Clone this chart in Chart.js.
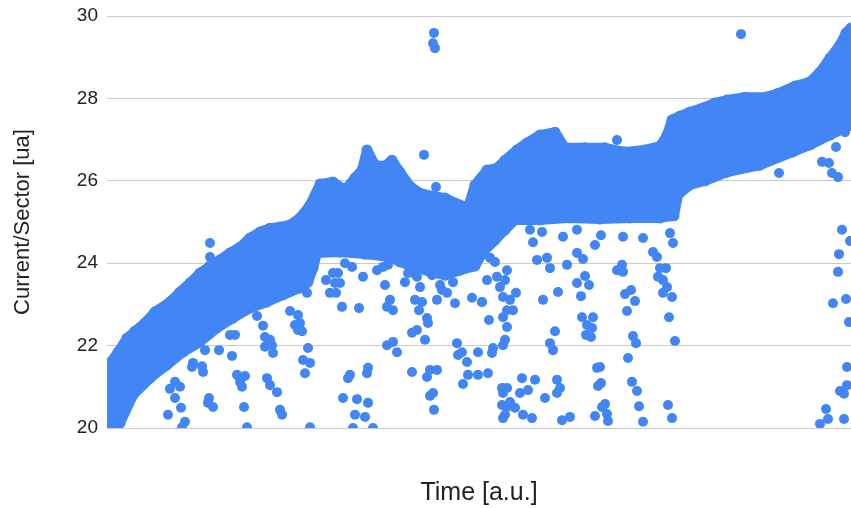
<!DOCTYPE html>
<html>
<head>
<meta charset="utf-8">
<script src="https://cdn.jsdelivr.net/npm/chart.js@4/dist/chart.umd.min.js"></script>
<style>
  html, body { margin: 0; padding: 0; background: #ffffff; }
  #wrap { width: 851px; height: 508px; }
</style>
</head>
<body>
<div id="wrap"><canvas id="current-chart" width="851" height="508"></canvas></div>
<script>
// Current per sector vs time. The dense cloud of samples is drawn as a band
// (upper / lower envelope), the stray samples below it as single points.

const BLUE = '#4285F4';
const FONT = "Arial, 'Liberation Sans', sans-serif";

// upper edge of the dense band
const upperT = [0, 4, 11, 20, 28, 38, 48, 63, 73, 83, 93, 103, 113, 123, 133, 143, 153, 163, 173, 183,
    193, 203, 213, 226, 238, 248, 255, 260, 268, 278, 285, 293, 303, 313, 326, 338, 350, 361, 368, 380,
    390, 398, 410, 420, 433, 448, 458, 478, 498, 518, 538, 553, 560, 565, 573, 583, 596, 608, 620, 638,
    658, 670, 688, 703, 713, 723, 733, 739, 744];
const upperI = [21.20, 21.60, 21.84, 22.18, 22.35, 22.55, 22.82, 23.06, 23.30, 23.52, 23.76, 23.93, 24.08, 24.25, 24.39, 24.61, 24.76, 24.85, 24.88, 24.93,
    25.10, 25.41, 25.92, 25.97, 25.78, 26.07, 26.26, 26.75, 26.38, 26.36, 26.50, 26.21, 25.87, 25.70, 25.63, 25.58, 25.44, 25.36, 25.90, 26.26,
    26.31, 26.50, 26.75, 26.92, 27.11, 27.18, 26.80, 26.80, 26.80, 26.70, 26.75, 26.84, 27.11, 27.48, 27.57, 27.67, 27.77, 27.89, 27.96, 28.03,
    28.03, 28.11, 28.30, 28.40, 28.64, 28.98, 29.30, 29.59, 29.71];

// lower edge of the dense band
const lowerT = [0, 13, 26, 43, 60, 76, 93, 110, 126, 143, 160, 176, 193, 201, 206, 210, 233, 258, 283, 293,
    308, 323, 338, 353, 368, 376, 388, 398, 408, 433, 463, 493, 523, 553, 567, 571, 583, 598, 620, 653,
    686, 703, 723, 744];
const lowerI = [19.50, 20.12, 20.80, 21.21, 21.53, 21.84, 22.09, 22.43, 22.67, 22.91, 23.06, 23.23, 23.40, 23.54, 23.88, 24.25, 24.27, 24.22, 24.15, 24.03,
    23.91, 23.79, 23.71, 23.83, 23.93, 24.27, 24.56, 24.81, 25.05, 25.05, 25.10, 25.07, 25.10, 25.10, 25.15, 25.66, 25.90, 26.00, 26.21, 26.38,
    26.70, 26.87, 27.11, 27.35];

// stray samples outside the band
const outT = [
    103, 103, 200, 183, 191, 150, 156, 188, 193, 191, 195, 123, 128, 158, 163, 158, 165, 166, 201, 98,
    112, 125, 196, 203, 86, 85, 95, 96, 198, 130, 138, 133, 135, 160, 163, 170, 68, 63, 73, 68,
    102, 101, 106, 74, 137, 173, 175, 61, 78, 75, 140, 203,
    317, 329, 327, 326, 328, 219, 226, 231, 228, 233, 223, 229, 235, 252, 238, 245, 256, 270, 276, 281,
    278, 283, 280, 286, 280, 286, 290, 261, 260, 243, 241, 236, 250, 261, 248, 258, 246, 266, 298, 301,
    306, 310, 313, 308, 315, 312, 320, 321, 305, 310, 318, 305, 323, 330, 320, 326, 323, 327, 325, 333,
    340, 330, 335, 346, 348, 365, 375, 350, 355, 351, 360, 371, 382, 386, 385, 361, 371, 381, 356, 390,
    398, 393, 396, 400, 403, 406, 396, 400, 398, 396, 409, 378, 383, 388, 400, 380, 375, 395, 400, 396,
    403, 395, 400, 408, 398, 396, 415, 428, 413, 421, 416, 425, 438, 450, 453, 450, 455, 463, 423, 435,
    426, 430, 440, 443, 460, 451, 436, 448, 443, 446, 456, 470, 470,
    510, 488, 494, 516, 536, 546, 550, 563, 566, 476, 478, 482, 470, 474, 475, 486, 480, 485, 479, 484,
    510, 515, 516, 518, 524, 528, 520, 553, 559, 551, 556, 560, 556, 565, 562, 568, 526, 529, 521, 490,
    493, 491, 494, 525, 530, 498, 495, 488, 500, 501, 532, 536, 561, 565,
    634, 672, 715, 722, 725, 731, 729, 738, 735, 732, 731, 743, 726, 739, 742, 740, 733, 737, 740, 719,
    721, 713, 737];
const outI = [
    24.49, 24.15, 23.28, 22.84, 22.74, 22.72, 22.48, 22.50, 22.55, 22.38, 22.35, 22.26, 22.26, 22.21, 22.14, 21.97, 22.01, 21.82, 21.94, 21.89,
    21.89, 21.75, 21.65, 21.58, 21.58, 21.48, 21.50, 21.36, 21.33, 21.29, 21.26, 21.12, 21.00, 21.21, 21.04, 20.87, 21.12, 20.95, 21.00, 20.73,
    20.73, 20.61, 20.51, 20.49, 20.51, 20.44, 20.32, 20.32, 20.15, 20.02, 20.02, 20.02,
    26.63, 25.85, 29.59, 29.34, 29.22, 23.59, 23.76, 23.76, 23.52, 23.52, 23.28, 23.28, 22.94, 22.91, 24.00, 23.91, 23.67, 23.83, 23.91, 23.96,
    23.47, 23.11, 22.94, 22.86, 22.01, 22.09, 21.84, 21.46, 21.33, 21.29, 21.21, 20.73, 20.70, 20.61, 20.32, 20.27, 20.00, 20.00, 23.54, 23.76,
    23.76, 23.67, 23.42, 23.11, 23.06, 22.86, 22.67, 22.55, 22.31, 22.38, 22.14, 21.36, 21.41, 21.41, 21.24, 20.85, 20.78, 20.44, 23.71, 23.47,
    23.28, 23.11, 23.35, 23.54, 23.03, 23.16, 23.06, 22.06, 21.84, 21.77, 21.60, 21.84, 22.62, 21.94, 21.82, 21.29, 21.29, 21.33, 21.07, 23.67,
    23.59, 23.42, 23.18, 22.86, 23.11, 22.86, 22.69, 22.45, 22.14, 22.01, 23.28, 24.32, 24.13, 24.03, 23.83, 23.59, 23.06, 20.97, 20.97, 20.85,
    20.63, 20.56, 20.51, 20.49, 20.32, 20.24, 21.21, 21.17, 20.85, 20.92, 20.32, 20.24, 20.73, 21.17, 20.97, 20.85, 20.19, 20.27, 24.81, 24.76,
    24.51, 24.08, 24.13, 23.88, 23.96, 23.30, 23.11, 22.35, 22.06, 21.89, 24.64, 24.81, 24.25,
    26.99, 24.44, 24.68, 24.64, 24.61, 24.27, 24.15, 24.73, 24.49, 24.10, 23.69, 23.47, 23.52, 23.20, 22.69, 22.69, 22.50, 22.43, 22.26, 22.21,
    23.83, 23.96, 23.79, 23.25, 23.35, 23.08, 22.84, 23.88, 23.88, 23.67, 23.59, 23.42, 23.28, 23.18, 22.69, 22.11, 22.23, 22.06, 21.70, 21.46,
    21.48, 21.02, 21.09, 21.12, 20.90, 20.58, 20.51, 20.29, 20.34, 20.17, 20.53, 20.15, 20.56, 20.24,
    29.56, 26.19, 26.46, 26.43, 26.19, 26.09, 26.82, 27.18, 24.81, 24.22, 23.79, 24.54, 23.03, 23.13, 22.57, 21.48, 20.90, 20.83, 21.04, 20.46,
    20.22, 20.10, 20.22];

const toPoints = (xs, ys) => xs.map((t, i) => ({ x: t, y: ys[i] }));

// the band edges: thick round-jointed lines, filled between
const bandStyle = {
    borderColor: BLUE,
    backgroundColor: BLUE,
    borderWidth: 10,
    borderJoinStyle: 'round',
    borderCapStyle: 'round',
    pointRadius: 5.5,
    pointHoverRadius: 5.5,
    pointBackgroundColor: BLUE,
    pointBorderWidth: 0,
    tension: 0,
    clip: 0
};

const ctx = document.getElementById('current-chart').getContext('2d');

new Chart(ctx, {
    type: 'line',
    data: {
        datasets: [
            Object.assign({ label: 'band top', data: toPoints(upperT, upperI), fill: '+1' }, bandStyle),
            Object.assign({ label: 'band bottom', data: toPoints(lowerT, lowerI), fill: false }, bandStyle),
            {
                label: 'Current/Sector',
                data: toPoints(outT, outI),
                showLine: false,
                pointRadius: 5,
                pointHoverRadius: 5,
                pointBackgroundColor: BLUE,
                pointBorderWidth: 0,
                borderColor: BLUE,
                clip: 0
            }
        ]
    },
    options: {
        responsive: false,
        animation: false,
        layout: {
            autoPadding: false,
            padding: { top: 16, right: 0, bottom: 0, left: 0 }
        },
        plugins: {
            legend: { display: false },
            tooltip: { enabled: false }
        },
        scales: {
            x: {
                type: 'linear',
                min: 0,
                max: 744,
                grid: { display: false },
                border: { display: false },
                ticks: { display: false },
                title: {
                    display: true,
                    text: 'Time [a.u.]',
                    color: '#222222',
                    font: { family: FONT, size: 25 },
                    padding: { top: 0, bottom: 0 }
                },
                afterFit: (scale) => { scale.height = 80; }
            },
            y: {
                min: 20,
                max: 30,
                ticks: {
                    stepSize: 2,
                    color: '#222222',
                    padding: 9,
                    font: { family: FONT, size: 19 }
                },
                grid: { color: '#cccccc', lineWidth: 1, drawTicks: false },
                border: { display: false },
                title: {
                    display: true,
                    text: 'Current/Sector [ua]',
                    color: '#222222',
                    font: { family: FONT, size: 22 },
                    padding: { top: 10, bottom: 0 }
                },
                afterFit: (scale) => {
                    scale.width = 107;
                    // keep the "30" label from pushing the plot down
                    scale.paddingTop = 0;
                    scale.paddingBottom = 0;
                }
            }
        }
    }
});
</script>
</body>
</html>
